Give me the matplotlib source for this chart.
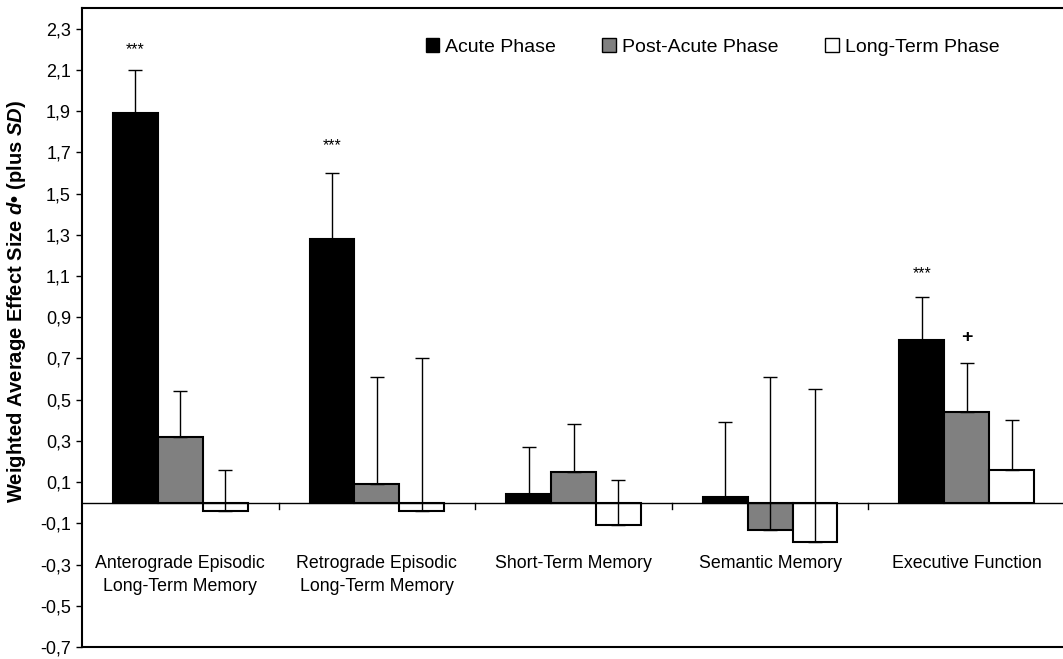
import matplotlib
matplotlib.use("Agg")
import matplotlib.pyplot as plt
import numpy as np
from matplotlib.patches import Patch

plt.rcParams['font.family'] = ['Liberation Sans', 'DejaVu Sans']
plt.rcParams['mathtext.fontset'] = 'custom'
plt.rcParams['mathtext.rm'] = 'Liberation Sans:bold'
plt.rcParams['mathtext.bf'] = 'Liberation Sans:bold'
plt.rcParams['mathtext.it'] = 'Liberation Sans:italic:bold'

categories = ["Anterograde Episodic\nLong-Term Memory", "Retrograde Episodic\nLong-Term Memory",
              "Short-Term Memory", "Semantic Memory", "Executive Function"]
series_names = ["Acute Phase", "Post-Acute Phase", "Long-Term Phase"]
acute = [1.89, 1.28, 0.04, 0.03, 0.79]
post_acute = [0.32, 0.09, 0.15, -0.13, 0.44]
long_term = [-0.04, -0.04, -0.11, -0.19, 0.16]
acute_sd = [0.21, 0.32, 0.23, 0.36, 0.21]
post_acute_sd = [0.22, 0.52, 0.23, 0.74, 0.24]
long_term_sd = [0.20, 0.74, 0.22, 0.74, 0.24]
# significance markers: (category index, series index, text, y position)
markers = [(0, 0, "***", 2.20), (1, 0, "***", 1.73), (4, 0, "***", 1.11), (4, 1, "+", 0.80)]
yticks = [-0.7, -0.5, -0.3, -0.1, 0.1, 0.3, 0.5, 0.7, 0.9, 1.1, 1.3, 1.5, 1.7, 1.9, 2.1, 2.3]

fig = plt.figure(figsize=(10.63, 6.59), dpi=100)
ax = fig.add_axes([82/1063, 12/659, 983/1063, 639/659])

x = np.arange(len(categories))
w = 0.228
colors = ["black", "#808080", "white"]
values = [acute, post_acute, long_term]
sds = [acute_sd, post_acute_sd, long_term_sd]
for k in range(3):
    xs = x + (k - 1) * w
    vals = np.array(values[k])
    ax.bar(xs, vals, width=w, color=colors[k], edgecolor="black", linewidth=1.5, zorder=2)
    ax.errorbar(xs, vals, yerr=[np.zeros(len(vals)), np.array(sds[k])], fmt="none",
                ecolor="black", elinewidth=1.0, capsize=5, capthick=1.0, zorder=3)

for ci, si, txt, yy in markers:
    if txt == "+":
        ax.text(x[ci] + (si - 1) * w, yy, txt, ha="center", va="center", fontsize=14, fontweight="bold")
    else:
        ax.text(x[ci] + (si - 1) * w, yy, txt, ha="center", va="center", fontsize=11.5)

ax.axhline(0, color="black", linewidth=1.0, zorder=4)
for b in x[:-1] + 0.5:
    ax.plot([b, b], [0, -0.03], color="black", linewidth=1.0, zorder=4)

for i, c in enumerate(categories):
    ax.text(x[i], -0.255, c, ha="center", va="top", fontsize=12.8, linespacing=1.45)

ax.set_xlim(-0.5, len(categories) - 0.5)
ax.set_ylim(-0.7, 2.4)
ax.set_yticks(yticks)
ax.set_yticklabels([f"{t:.1f}".replace(".", ",") for t in yticks], fontsize=13)
ax.set_xticks([])
ax.tick_params(axis="y", length=4, width=1.0, pad=4)
ax.spines["right"].set_visible(False)
for s in ["left", "top", "bottom"]:
    ax.spines[s].set_linewidth(1.5)

ax.set_ylabel(r"Weighted Average Effect Size $\mathit{d}$• (plus $\mathit{SD}$)",
              fontsize=14.5, fontweight="bold")
ax.yaxis.set_label_coords(-0.055, 0.54)

handles = [Patch(facecolor=colors[k], edgecolor="black", linewidth=1.0) for k in range(3)]
fig.legend(handles, series_names, loc="center left", bbox_to_anchor=(408/1063, 1 - 47/659),
           ncol=3, frameon=False, fontsize=14, handlelength=0.7, handleheight=0.7,
           handletextpad=0.3, columnspacing=2.4)

fig.savefig("out.png", dpi=100)
